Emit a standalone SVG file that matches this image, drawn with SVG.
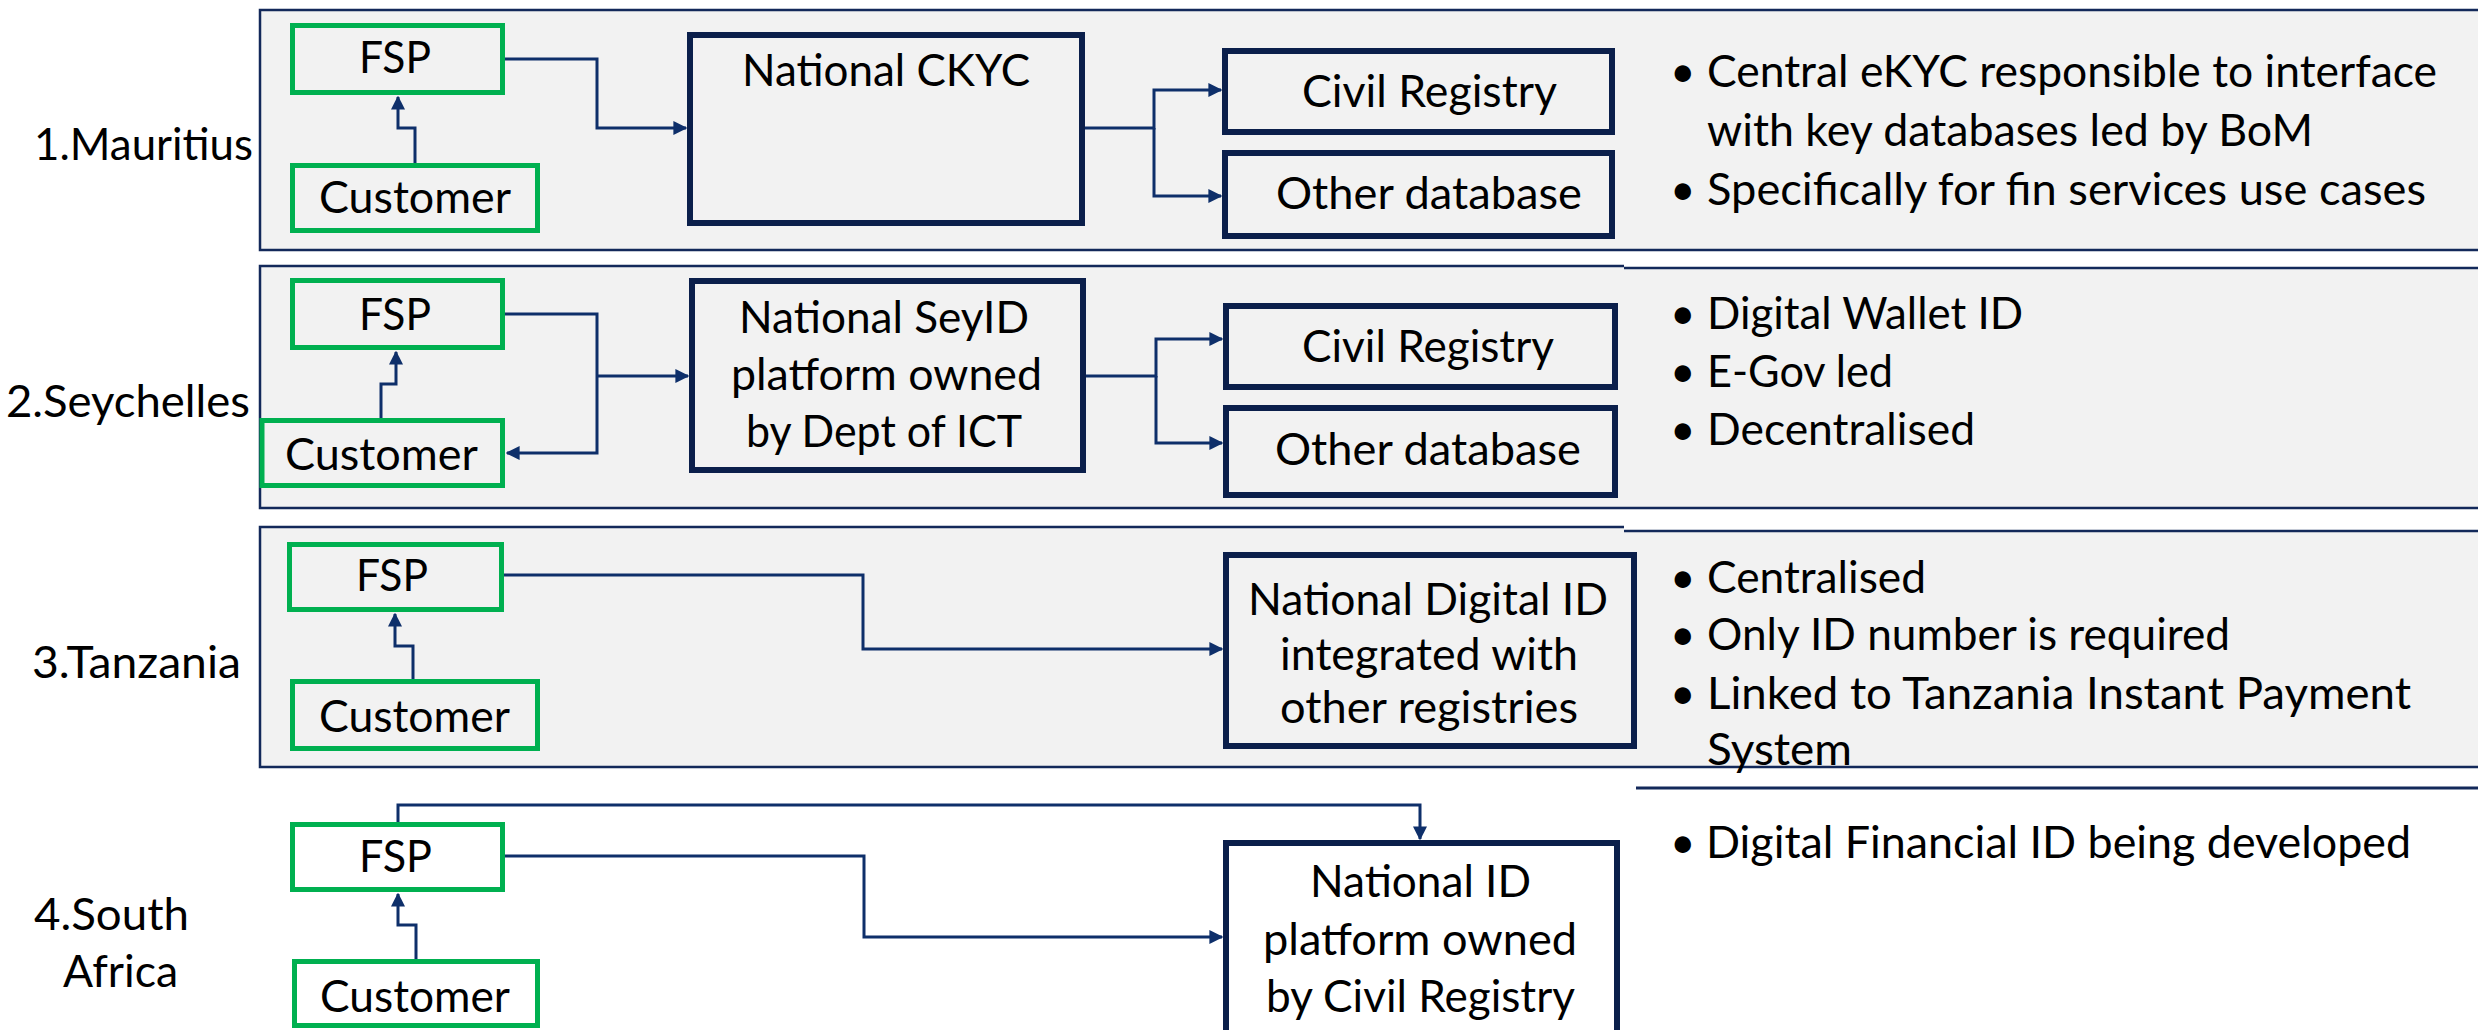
<svg xmlns="http://www.w3.org/2000/svg" width="2478" height="1030" viewBox="0 0 2478 1030">
  <style>
    text { font-family: Lato, "Liberation Sans", sans-serif; font-size: 44px; fill: #000; }
    .panel { fill: #f2f2f2; stroke: #13295a; stroke-width: 2.5; }
    .fill { fill: #f2f2f2; }
    .edge { fill: none; stroke: #13295a; stroke-width: 2.5; }
    .green { fill: none; stroke: #00b050; stroke-width: 5; }
    .navy { fill: none; stroke: #0b1f4b; stroke-width: 6; }
    .conn { fill: none; stroke: #0e2f6a; stroke-width: 3; }
    .rule { stroke: #13295a; stroke-width: 3; }
  </style>
  <defs>
    <marker id="arrow" viewBox="0 0 10 10" refX="9" refY="5" markerUnits="userSpaceOnUse" markerWidth="14" markerHeight="14" orient="auto">
      <path d="M0,0 L10,5 L0,10 Z" fill="#0e2f6a"/>
    </marker>
  </defs>
  <rect width="2478" height="1030" fill="#fff"/>

  <!-- country panels -->
  <g id="panels">
    <rect class="panel" x="260" y="10" width="2240" height="240"/>

    <rect class="fill" x="260" y="266" width="1364" height="242"/>
    <rect class="fill" x="1624" y="268" width="880" height="240"/>
    <path class="edge" d="M2500,508 H260 V266 H1624 M1624,268 H2500"/>

    <rect class="fill" x="260" y="527" width="1364" height="240"/>
    <rect class="fill" x="1624" y="531" width="880" height="236"/>
    <path class="edge" d="M2500,767 H260 V527 H1624 M1624,531 H2500"/>

    <line class="rule" x1="1636" y1="788" x2="2478" y2="788"/>
  </g>

  <!-- country labels -->
  <g id="labels">
    <text x="34" y="160" textLength="219" lengthAdjust="spacingAndGlyphs">1.Mauritius</text>
    <text x="6" y="417" textLength="244" lengthAdjust="spacingAndGlyphs">2.Seychelles</text>
    <text x="32" y="678" textLength="209" lengthAdjust="spacingAndGlyphs">3.Tanzania</text>
    <text x="34" y="930" textLength="155" lengthAdjust="spacingAndGlyphs">4.South</text>
    <text x="63" y="987" textLength="115" lengthAdjust="spacingAndGlyphs">Africa</text>
  </g>

  <!-- connectors -->
  <g id="connectors">
    <path class="conn" d="M415,163 V128 H398 V97" marker-end="url(#arrow)"/>
    <path class="conn" d="M505,59 H597 V128 H686" marker-end="url(#arrow)"/>
    <path class="conn" d="M1085,128 H1154 V90 H1221" marker-end="url(#arrow)"/>
    <path class="conn" d="M1154,128 V196 H1221" marker-end="url(#arrow)"/>

    <path class="conn" d="M381,418 V384 H396 V352" marker-end="url(#arrow)"/>
    <path class="conn" d="M505,314 H597 V453 H507" marker-end="url(#arrow)"/>
    <path class="conn" d="M597,376 H688" marker-end="url(#arrow)"/>
    <path class="conn" d="M1086,376 H1156 V339 H1222" marker-end="url(#arrow)"/>
    <path class="conn" d="M1156,376 V443 H1222" marker-end="url(#arrow)"/>

    <path class="conn" d="M413,679 V646 H395 V614" marker-end="url(#arrow)"/>
    <path class="conn" d="M504,575 H863 V649 H1222" marker-end="url(#arrow)"/>

    <path class="conn" d="M416,959 V925 H398 V894" marker-end="url(#arrow)"/>
    <path class="conn" d="M398,822 V805 H1420 V839" marker-end="url(#arrow)"/>
    <path class="conn" d="M505,856 H864 V937 H1222" marker-end="url(#arrow)"/>
  </g>

  <!-- 1. Mauritius -->
  <g id="fsp-1">
    <rect class="green" x="292.5" y="25.5" width="210" height="67"/>
    <text x="359" y="73" textLength="72" lengthAdjust="spacingAndGlyphs">FSP</text>
  </g>
  <g id="customer-1">
    <rect class="green" x="292.5" y="165.5" width="245" height="65"/>
    <text x="319" y="213" textLength="192" lengthAdjust="spacingAndGlyphs">Customer</text>
  </g>
  <g id="ckyc-1">
    <rect class="navy" x="690" y="35" width="392" height="188"/>
    <text x="742" y="86" textLength="288" lengthAdjust="spacingAndGlyphs">National CKYC</text>
  </g>
  <g id="civil-1">
    <rect class="navy" x="1225" y="51" width="387" height="81"/>
    <text x="1302" y="107" textLength="255" lengthAdjust="spacingAndGlyphs">Civil Registry</text>
  </g>
  <g id="other-1">
    <rect class="navy" x="1225" y="153" width="387" height="83"/>
    <text x="1276" y="209" textLength="306" lengthAdjust="spacingAndGlyphs">Other database</text>
  </g>
  <g id="notes-1">
    <text x="1670" y="87">•</text>
    <text x="1707" y="87" textLength="730" lengthAdjust="spacingAndGlyphs">Central eKYC responsible to interface</text>
    <text x="1707" y="146" textLength="606" lengthAdjust="spacingAndGlyphs">with key databases led by BoM</text>
    <text x="1670" y="205">•</text>
    <text x="1707" y="205" textLength="719" lengthAdjust="spacingAndGlyphs">Specifically for fin services use cases</text>
  </g>

  <!-- 2. Seychelles -->
  <g id="fsp-2">
    <rect class="green" x="292.5" y="280.5" width="210" height="67"/>
    <text x="359" y="330" textLength="72" lengthAdjust="spacingAndGlyphs">FSP</text>
  </g>
  <g id="customer-2">
    <rect class="green" x="262" y="420.5" width="240.5" height="65"/>
    <text x="285" y="470" textLength="193" lengthAdjust="spacingAndGlyphs">Customer</text>
  </g>
  <g id="seyid-2">
    <rect class="navy" x="692" y="281" width="391" height="189"/>
    <text x="739" y="333" textLength="290" lengthAdjust="spacingAndGlyphs">National SeyID</text>
    <text x="731" y="390" textLength="311" lengthAdjust="spacingAndGlyphs">platform owned</text>
    <text x="746" y="447" textLength="276" lengthAdjust="spacingAndGlyphs">by Dept of ICT</text>
  </g>
  <g id="civil-2">
    <rect class="navy" x="1226" y="306" width="389" height="81"/>
    <text x="1302" y="362" textLength="252" lengthAdjust="spacingAndGlyphs">Civil Registry</text>
  </g>
  <g id="other-2">
    <rect class="navy" x="1226" y="408" width="389" height="87"/>
    <text x="1275" y="465" textLength="306" lengthAdjust="spacingAndGlyphs">Other database</text>
  </g>
  <g id="notes-2">
    <text x="1670" y="329">•</text>
    <text x="1707" y="329" textLength="316" lengthAdjust="spacingAndGlyphs">Digital Wallet ID</text>
    <text x="1670" y="387">•</text>
    <text x="1707" y="387" textLength="186" lengthAdjust="spacingAndGlyphs">E-Gov led</text>
    <text x="1670" y="445">•</text>
    <text x="1707" y="445" textLength="268" lengthAdjust="spacingAndGlyphs">Decentralised</text>
  </g>

  <!-- 3. Tanzania -->
  <g id="fsp-3">
    <rect class="green" x="289.5" y="544.5" width="212" height="65"/>
    <text x="356" y="591" textLength="72" lengthAdjust="spacingAndGlyphs">FSP</text>
  </g>
  <g id="customer-3">
    <rect class="green" x="292.5" y="681.5" width="245" height="67"/>
    <text x="319" y="732" textLength="191" lengthAdjust="spacingAndGlyphs">Customer</text>
  </g>
  <g id="digital-id-3">
    <rect class="navy" x="1226" y="555" width="408" height="191"/>
    <text x="1248" y="615" textLength="360" lengthAdjust="spacingAndGlyphs">National Digital ID</text>
    <text x="1280" y="670" textLength="298" lengthAdjust="spacingAndGlyphs">integrated with</text>
    <text x="1280" y="723" textLength="298" lengthAdjust="spacingAndGlyphs">other registries</text>
  </g>
  <g id="notes-3">
    <text x="1670" y="593">•</text>
    <text x="1707" y="593" textLength="219" lengthAdjust="spacingAndGlyphs">Centralised</text>
    <text x="1670" y="650">•</text>
    <text x="1707" y="650" textLength="523" lengthAdjust="spacingAndGlyphs">Only ID number is required</text>
    <text x="1670" y="709">•</text>
    <text x="1707" y="709" textLength="704" lengthAdjust="spacingAndGlyphs">Linked to Tanzania Instant Payment</text>
    <text x="1707" y="765" textLength="145" lengthAdjust="spacingAndGlyphs">System</text>
  </g>

  <!-- 4. South Africa -->
  <g id="fsp-4">
    <rect class="green" x="292.5" y="824.5" width="210" height="65"/>
    <text x="359" y="872" textLength="73" lengthAdjust="spacingAndGlyphs">FSP</text>
  </g>
  <g id="customer-4">
    <rect class="green" x="294.5" y="961.5" width="243" height="64"/>
    <text x="320" y="1012" textLength="190" lengthAdjust="spacingAndGlyphs">Customer</text>
  </g>
  <g id="national-id-4">
    <rect class="navy" x="1226" y="843" width="391" height="200"/>
    <text x="1310" y="897" textLength="221" lengthAdjust="spacingAndGlyphs">National ID</text>
    <text x="1263" y="955" textLength="314" lengthAdjust="spacingAndGlyphs">platform owned</text>
    <text x="1266" y="1012" textLength="309" lengthAdjust="spacingAndGlyphs">by Civil Registry</text>
  </g>
  <g id="notes-4">
    <text x="1670" y="858">•</text>
    <text x="1706" y="858" textLength="705" lengthAdjust="spacingAndGlyphs">Digital Financial ID being developed</text>
  </g>
</svg>
